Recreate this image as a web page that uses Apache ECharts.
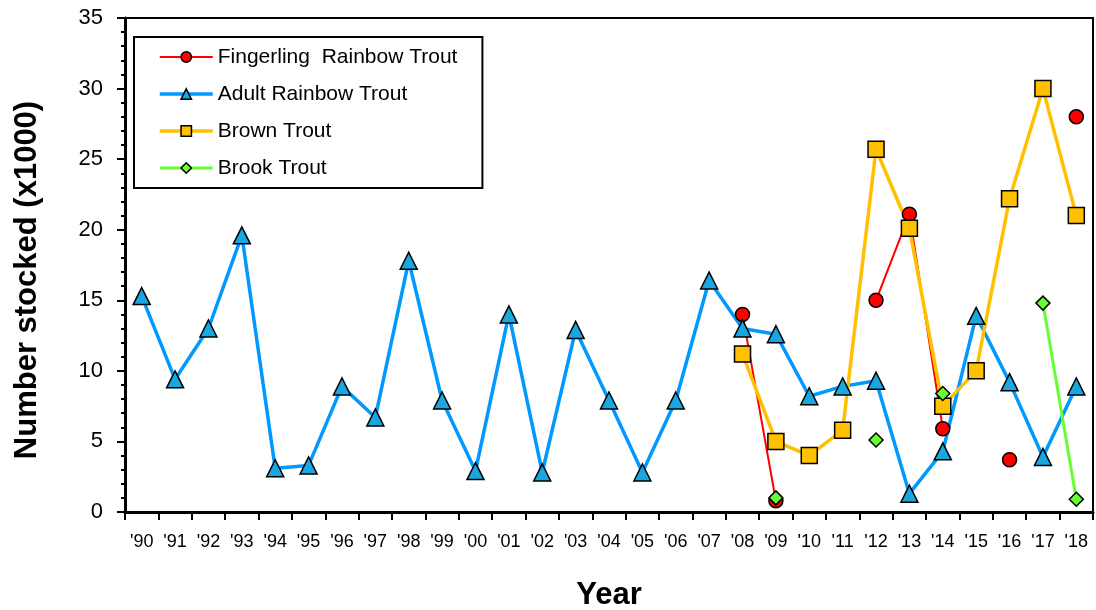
<!DOCTYPE html>
<html>
<head>
<meta charset="utf-8">
<script src="https://cdn.jsdelivr.net/npm/echarts@6/dist/echarts.min.js"></script>
<style>
  html, body { margin: 0; padding: 0; background: #fff; }
  #chart { width: 1096px; height: 610px; }
</style>
</head>
<body>
<div id="chart"></div>
<script>
// years on the x axis
const years = ["'90","'91","'92","'93","'94","'95","'96","'97","'98","'99",
  "'00","'01","'02","'03","'04","'05","'06","'07","'08","'09",
  "'10","'11","'12","'13","'14","'15","'16","'17","'18"];

// stocking numbers (x1000)
const adultRainbow = [15.3, 9.4, 13.0, 19.6, 3.1, 3.3, 8.9, 6.7, 17.8, 7.9,
  2.9, 14.0, 2.8, 12.9, 7.9, 2.8, 7.9, 16.4, 13.0, 12.6,
  8.2, 8.9, 9.3, 1.3, 4.3, 13.9, 9.2, 3.9, 8.9];
const fingerlingRainbow = [null, null, null, null, null, null, null, null, null, null,
  null, null, null, null, null, null, null, null, 14.0, 0.8,
  null, null, 15.0, 21.1, 5.9, null, 3.7, null, 28.0];
const brownTrout = [null, null, null, null, null, null, null, null, null, null,
  null, null, null, null, null, null, null, null, 11.2, 5.0,
  4.0, 5.8, 25.7, 20.1, 7.5, 10.0, 22.2, 30.0, 21.0];
const brookTrout = [null, null, null, null, null, null, null, null, null, null,
  null, null, null, null, null, null, null, null, null, 1.0,
  null, null, 5.1, null, 8.4, null, null, 14.8, 0.9];

const FONT = 'Liberation Sans, Arial, sans-serif';

const chart = echarts.init(document.getElementById('chart'));

function mkSeries(name, data, lineColor, lineWidth, symbol, symbolSize, fill){
    return {
        name: name,
        type: 'line',
        data: data,
        connectNulls: false,
        symbol: symbol,
        symbolSize: symbolSize,
        lineStyle: {color: lineColor, width: lineWidth},
        itemStyle: {color: fill, borderColor: '#000', borderWidth: 1.5},
        emphasis: {disabled: true},
        animation: false
    };
}

// legend entries, line widths as in the plot
function legendItem(name, width){
    return {name: name, lineStyle: {width: width}, itemStyle: {borderWidth: 1.5}};
}

chart.setOption({
    backgroundColor: '#fff',
    textStyle: {fontFamily: FONT},
    grid: {
        left: 125, right: 3, top: 18, bottom: 98,
        outerBoundsMode: 'none',
        show: true, borderColor: '#000', borderWidth: 2, backgroundColor: 'transparent'
    },
    legend: {
        orient: 'vertical',
        left: 134, top: 37,
        padding: [9, 25, 9, 24],
        itemGap: 15,
        itemWidth: 53, itemHeight: 13,
        borderColor: '#000', borderWidth: 2,
        backgroundColor: '#fff',
        textStyle: {fontSize: 21, color: '#000', fontFamily: FONT, lineHeight: 22},
        data: [
            legendItem('Fingerling  Rainbow Trout', 2),
            legendItem('Adult Rainbow Trout', 3.5),
            legendItem('Brown Trout', 3.5),
            legendItem('Brook Trout', 3)
        ]
    },
    xAxis: {
        type: 'category',
        data: years,
        boundaryGap: true,
        name: 'Year',
        nameLocation: 'middle',
        nameGap: 68,
        nameTextStyle: {fontSize: 31, fontWeight: 'bold', color: '#000', fontFamily: FONT},
        axisLine: {lineStyle: {color: '#000', width: 3}},
        axisTick: {show: true, alignWithLabel: false, length: 8, lineStyle: {color: '#000', width: 2}},
        axisLabel: {fontSize: 18, color: '#000', margin: 21, interval: 0}
    },
    yAxis: {
        type: 'value',
        min: 0, max: 35, interval: 5,
        name: 'Number stocked (x1000)',
        nameLocation: 'middle',
        nameGap: 82,
        nameTextStyle: {fontSize: 31, fontWeight: 'bold', color: '#000', fontFamily: FONT,
            padding: [0, 30, 0, 0]},
        axisLine: {show: true, lineStyle: {color: '#000', width: 3}},
        axisTick: {show: true, length: 8, lineStyle: {color: '#000', width: 2}},
        minorTick: {show: true, splitNumber: 5, length: 4, lineStyle: {color: '#000', width: 2}},
        splitLine: {show: false},
        axisLabel: {fontSize: 22, color: '#000', margin: 22}
    },
    series: [
        mkSeries('Fingerling  Rainbow Trout', fingerlingRainbow, '#FF0000', 2, 'circle', 14, '#FF0000'),
        mkSeries('Adult Rainbow Trout', adultRainbow, '#0099FF', 3.5, 'triangle', 17, '#1AA7E0'),
        mkSeries('Brown Trout', brownTrout, '#FFC000', 3.5, 'rect', 16, '#FFC000'),
        mkSeries('Brook Trout', brookTrout, '#66FF33', 3, 'diamond', 14, '#66FF33')
    ]
});
</script>
</body>
</html>
